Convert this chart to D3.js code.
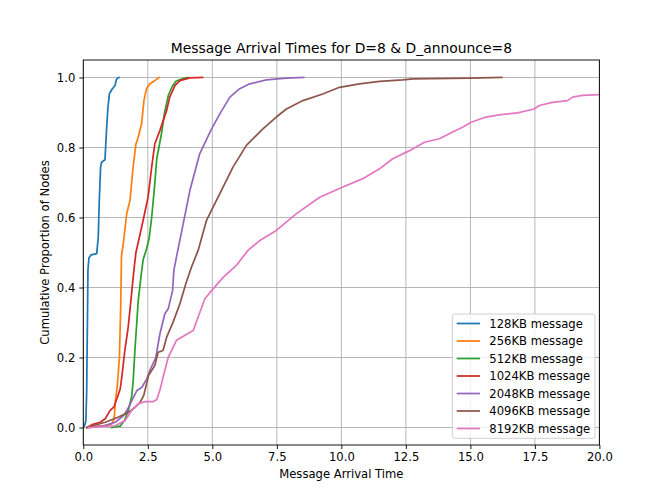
<!DOCTYPE html>
<html>
<head>
<meta charset="utf-8">
<script src="https://cdn.jsdelivr.net/npm/d3@7"></script>
<style>
  html, body { margin: 0; padding: 0; background: #fff; }
  svg { display: block; font-family: "DejaVu Sans", sans-serif; }
</style>
</head>
<body>
<svg id="chart" width="666" height="500"></svg>
<script>
// ---- data ----
const seriesLabels = ["128KB message", "256KB message", "512KB message", "1024KB message",
                      "2048KB message", "4096KB message", "8192KB message"];
const xTicks = [0, 2.5, 5, 7.5, 10, 12.5, 15, 17.5, 20];
const yTicks = [0, 0.2, 0.4, 0.6, 0.8, 1.0];

const msg128 = [[0.0,0.0],[0.05,0.005],[0.1,0.02],[0.13,0.1],[0.16,0.3],[0.18,0.45],[0.22,0.485],[0.3,0.493],
  [0.52,0.497],[0.58,0.544],[0.62,0.65],[0.67,0.744],[0.71,0.758],[0.84,0.765],[0.9,0.849],[0.95,0.91],
  [1.01,0.953],[1.1,0.965],[1.23,0.977],[1.29,0.996],[1.38,1.0]];
const msg256 = [[0.15,0.0],[0.5,0.003],[0.9,0.006],[1.1,0.01],[1.17,0.02],[1.2,0.03],[1.25,0.08],[1.32,0.12],
  [1.4,0.2],[1.45,0.35],[1.48,0.49],[1.55,0.525],[1.68,0.61],[1.81,0.649],[1.93,0.744],[2.04,0.81],[2.13,0.83],
  [2.26,0.868],[2.35,0.934],[2.45,0.968],[2.58,0.982],[2.77,0.991],[2.93,1.0]];
const msg512 = [[1.1,0.0],[1.43,0.004],[1.6,0.02],[1.76,0.053],[1.88,0.091],[1.93,0.13],[2.0,0.22],[2.13,0.363],
  [2.25,0.44],[2.32,0.48],[2.45,0.51],[2.55,0.54],[2.65,0.6],[2.75,0.68],[2.85,0.77],[2.93,0.8],[3.03,0.84],
  [3.15,0.9],[3.3,0.95],[3.45,0.975],[3.6,0.99],[3.87,0.997],[4.06,1.0]];
const msg1024 = [[0.14,0.0],[0.34,0.008],[0.66,0.015],[0.85,0.025],[1.04,0.049],[1.18,0.058],[1.3,0.082],
  [1.43,0.11],[1.5,0.149],[1.61,0.22],[1.74,0.287],[1.87,0.382],[1.96,0.449],[2.04,0.5],[2.26,0.572],
  [2.51,0.658],[2.65,0.744],[2.77,0.81],[2.97,0.849],[3.23,0.906],[3.35,0.944],[3.55,0.977],[3.74,0.991],
  [4.13,0.999],[4.62,1.0]];
const msg2048 = [[0.2,0.0],[0.8,0.005],[1.24,0.015],[1.56,0.034],[1.76,0.058],[1.88,0.077],[2.08,0.106],
  [2.27,0.115],[2.46,0.139],[2.58,0.163],[2.81,0.2],[2.97,0.268],[3.16,0.325],[3.29,0.339],[3.46,0.391],
  [3.51,0.449],[3.61,0.487],[3.87,0.582],[4.13,0.677],[4.51,0.782],[4.97,0.853],[5.29,0.896],[5.68,0.944],
  [6.06,0.968],[6.45,0.982],[7.09,0.993],[7.87,0.998],[8.54,1.0]];
const msg4096 = [[0.14,0.0],[0.85,0.015],[1.37,0.03],[1.76,0.044],[2.01,0.058],[2.2,0.072],[2.34,0.091],
  [2.53,0.149],[2.77,0.177],[2.9,0.215],[3.09,0.22],[3.23,0.258],[3.48,0.301],[3.74,0.353],[3.97,0.41],
  [4.19,0.458],[4.45,0.506],[4.77,0.591],[5.29,0.668],[5.8,0.744],[6.32,0.806],[6.96,0.853],[7.48,0.887],
  [7.87,0.91],[8.51,0.934],[9.28,0.953],[9.93,0.972],[10.7,0.982],[11.48,0.989],[12.38,0.993],[12.77,0.996],
  [14.96,0.998],[16.22,1.0]];
const msg8192 = [[0.2,0.0],[1.24,0.005],[1.62,0.02],[1.88,0.049],[2.14,0.068],[2.4,0.074],[2.72,0.074],
  [2.85,0.08],[2.98,0.11],[3.11,0.149],[3.29,0.2],[3.61,0.249],[4.26,0.277],[4.71,0.368],[5.03,0.396],
  [5.42,0.429],[5.93,0.463],[6.38,0.506],[6.84,0.534],[7.48,0.563],[8.26,0.611],[9.16,0.658],[10.06,0.687],
  [10.83,0.711],[11.48,0.739],[11.99,0.768],[12.64,0.791],[13.22,0.815],[13.8,0.825],[14.31,0.844],
  [14.7,0.858],[15.03,0.872],[15.6,0.887],[16.12,0.893],[16.83,0.899],[17.47,0.91],[17.67,0.92],
  [18.18,0.929],[18.76,0.934],[18.96,0.944],[19.34,0.949],[20.0,0.951],[20.5,0.953]];

const seriesData = [msg128, msg256, msg512, msg1024, msg2048, msg4096, msg8192];
const seriesColors = ["#1f77b4", "#ff7f0e", "#2ca02c", "#d62728", "#9467bd", "#8c564b", "#e377c2"];

// ---- layout ----
const W = 666, H = 500;
const mLeft = 83.3, mRight = 599.4, mTop = 60, mBottom = 445;
const fs = 11.6;

const svg = d3.select("#chart");
const x = d3.scaleLinear().domain([0, 20]).range([mLeft, mRight]);
const y = d3.scaleLinear().domain([-0.05, 1.05]).range([mBottom, mTop]);

svg.append("defs").append("clipPath").attr("id", "clip")
  .append("rect").attr("x", mLeft).attr("y", mTop).attr("width", mRight - mLeft).attr("height", mBottom - mTop);

// grid
const grid = svg.append("g");
grid.selectAll("line.gx").data(xTicks).join("line").attr("class", "gx")
  .attr("x1", d => x(d)).attr("x2", d => x(d)).attr("y1", mTop).attr("y2", mBottom)
  .attr("stroke", "#b0b0b0").attr("stroke-width", 0.92);
grid.selectAll("line.gy").data(yTicks).join("line").attr("class", "gy")
  .attr("y1", d => y(d)).attr("y2", d => y(d)).attr("x1", mLeft).attr("x2", mRight)
  .attr("stroke", "#b0b0b0").attr("stroke-width", 0.92);

// lines
const line = d3.line().x(d => x(d[0])).y(d => y(d[1]));
const lines = svg.append("g").attr("clip-path", "url(#clip)");
seriesData.forEach((s, i) => {
  lines.append("path").datum(s).attr("d", line)
    .attr("fill", "none").attr("stroke", seriesColors[i]).attr("stroke-width", 1.73)
    .attr("stroke-linejoin", "round").attr("stroke-linecap", "square");
});

// axes
const xAxis = d3.axisBottom(x).tickValues(xTicks).tickFormat(d3.format(".1f")).tickSize(4).tickPadding(4);
const yAxis = d3.axisLeft(y).tickValues(yTicks).tickFormat(d3.format(".1f")).tickSize(4).tickPadding(4);
const gx = svg.append("g").attr("transform", `translate(0,${mBottom})`).call(xAxis);
const gy = svg.append("g").attr("transform", `translate(${mLeft},0)`).call(yAxis);
[gx, gy].forEach(g => {
  g.select(".domain").remove();
  g.selectAll(".tick line").attr("stroke", "#000").attr("stroke-width", 0.92);
  g.selectAll(".tick text").attr("font-size", fs).attr("fill", "#000")
    .attr("font-family", "DejaVu Sans, sans-serif");
});

// spines
svg.append("rect").attr("x", mLeft).attr("y", mTop).attr("width", mRight - mLeft).attr("height", mBottom - mTop)
  .attr("fill", "none").attr("stroke", "#000").attr("stroke-width", 0.92);

// title & labels
svg.append("text").attr("x", (mLeft + mRight) / 2).attr("y", 53).attr("text-anchor", "middle")
  .attr("font-size", 13.9).attr("fill", "#000").text("Message Arrival Times for D=8 & D_announce=8");
svg.append("text").attr("x", (mLeft + mRight) / 2).attr("y", 478).attr("text-anchor", "middle")
  .attr("font-size", fs).attr("fill", "#000").text("Message Arrival Time");
svg.append("text").attr("transform", `translate(49,${(mTop + mBottom) / 2}) rotate(-90)`)
  .attr("text-anchor", "middle").attr("font-size", fs).attr("fill", "#000")
  .text("Cumulative Proportion of Nodes");

// legend
const legX = 452.3, legY = 314, legW = 142.7, legH = 124.3, rowH = 17.5;
const leg = svg.append("g");
leg.append("rect").attr("x", legX).attr("y", legY).attr("width", legW).attr("height", legH)
  .attr("rx", 2.5).attr("fill", "#fff").attr("fill-opacity", 0.8)
  .attr("stroke", "#cccccc").attr("stroke-width", 0.92);
seriesLabels.forEach((lab, i) => {
  const cy = legY + 9.5 + i * rowH;
  leg.append("line").attr("x1", legX + 4.4).attr("x2", legX + 27.7).attr("y1", cy).attr("y2", cy)
    .attr("stroke", seriesColors[i]).attr("stroke-width", 1.73);
  leg.append("text").attr("x", legX + 37).attr("y", cy).attr("dy", "0.35em")
    .attr("font-size", fs).attr("fill", "#000").text(lab);
});
</script>
</body>
</html>
